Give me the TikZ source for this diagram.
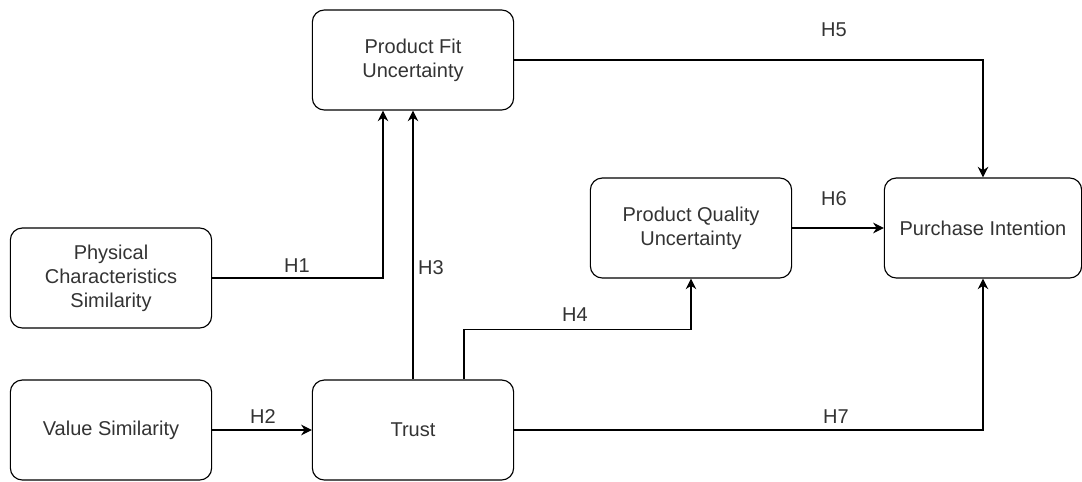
\documentclass[tikz,border=0pt]{standalone}
\usepackage{fontspec}
\setmainfont{Liberation Sans}
\usetikzlibrary{arrows.meta, positioning}

\begin{document}
\begin{tikzpicture}[x=0.75pt, y=-0.75pt, font=\fontsize{15}{18}\selectfont,
  construct/.style={draw, rounded corners=9pt, line width=0.85pt, minimum width=151pt,
    minimum height=75pt, inner sep=2pt, align=center, text=black!80},
  link/.style={line width=0.85pt, -{Stealth[length=8pt, width=8pt]}},
  hyp/.style={text=black!80}]

  \useasboundingbox (0,0) rectangle (1082,482);

  % --- constructs ---
  \node[construct] (fit)   at (413,60)  {Product Fit\\Uncertainty};
  \node[construct] (pcs)   at (111,278) {Physical\\Characteristics\\Similarity};
  \node[construct] (vs)    at (111,430) {Value Similarity};
  \node[construct] (trust) at (413,430) {Trust};
  \node[construct] (pqu)   at (691,228) {Product Quality\\Uncertainty};
  \node[construct, minimum width=148pt] (pi) at (983,228) {Purchase Intention};

  % --- hypothesised paths ---
  \draw[link] (pcs.east) -| ([xshift=-22.5pt]fit.south);
  \draw[link] (vs) -- (trust);
  \draw[link] (trust) -- (fit);
  \draw[link] ([xshift=38.25pt]trust.north) -- ++(0,-50) -| (pqu.south);
  \draw[link] (fit.east) -| (pi.north);
  \draw[link] (pqu) -- (pi);
  \draw[link] (trust.east) -| (pi.south);

  % --- path labels ---
  \node[hyp] (h1) at (297,266) {H1};
  \node[hyp] (h2) at (263,417) {H2};
  \node[hyp] (h3) at (431,268) {H3};
  \node[hyp] (h4) at (575,315) {H4};
  \node[hyp] (h5) at (834,30)  {H5};
  \node[hyp] (h6) at (834,199) {H6};
  \node[hyp] (h7) at (836,417) {H7};

\end{tikzpicture}
\end{document}
